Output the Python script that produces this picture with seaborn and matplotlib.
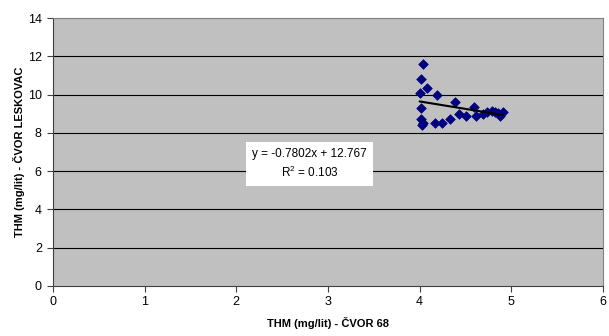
import numpy as np
import pandas as pd
import matplotlib
matplotlib.use("Agg")
import matplotlib.pyplot as plt
import seaborn as sns

# Data
cvor68 = [4.04, 4.02, 4.08, 4.00, 4.19, 4.01, 4.39, 4.02, 4.04, 4.03, 4.17, 4.24,
          4.33, 4.43, 4.51, 4.59, 4.61, 4.69, 4.73, 4.79, 4.82, 4.86, 4.88, 4.91]
leskovac = [11.6, 10.8, 10.36, 10.1, 10.0, 9.32, 9.6, 8.71, 8.53, 8.4, 8.5, 8.53,
            8.71, 8.97, 8.9, 9.34, 8.88, 8.99, 9.07, 9.16, 9.09, 9.02, 8.9, 9.09]
slope = -0.7802
intercept = 12.767
r2 = 0.103
x_ticks = [0, 1, 2, 3, 4, 5, 6]
y_ticks = [0, 2, 4, 6, 8, 10, 12, 14]

df = pd.DataFrame({"x": cvor68, "y": leskovac})

sns.set_style("white")
plt.rcParams["font.family"] = ["Liberation Sans", "DejaVu Sans"]
plt.rcParams["text.color"] = "black"
plt.rcParams["axes.labelcolor"] = "black"
plt.rcParams["xtick.color"] = "black"
plt.rcParams["ytick.color"] = "black"

fig = plt.figure(figsize=(6.09, 3.36), dpi=100)
ax = fig.add_axes([0.087, 0.149, 0.903, 0.797])
ax.set_facecolor("#C0C0C0")

for yv in y_ticks[1:-1]:
    ax.axhline(yv, color="black", linewidth=0.8, zorder=1)

sns.scatterplot(data=df, x="x", y="y", ax=ax, marker="D", s=24,
                color="#000080", edgecolor="#000080", linewidth=0.5, zorder=3)

xl = np.array([min(cvor68), max(cvor68)])
ax.plot(xl, slope * xl + intercept, color="black", linewidth=1.5, zorder=4)

ax.set_xlim(0, 6)
ax.set_ylim(0, 14)
ax.set_xticks(x_ticks)
ax.set_yticks(y_ticks)
ax.tick_params(axis="both", labelsize=9, direction="out", length=4,
               width=0.8, color="#404040", left=True, bottom=True, pad=3)
ax.tick_params(axis="y", pad=4)
for s in ax.spines.values():
    s.set_color("#808080")
    s.set_linewidth(0.8)
ax.spines["left"].set_color("#404040")
ax.spines["bottom"].set_color("#404040")

ax.set_xlabel("THM (mg/lit) - ČVOR 68", fontsize=8, fontweight="bold", labelpad=7)
ax.set_ylabel("THM (mg/lit) - ČVOR LESKOVAC", fontsize=8, fontweight="bold", labelpad=2)

ax.text(2.80, 6.37,
        "y = -0.7802x + 12.767\n$\\mathregular{R^2}$ = 0.103",
        fontsize=8.5, ha="center", va="center", linespacing=1.45, zorder=5,
        bbox=dict(boxstyle="square,pad=0.5", facecolor="white", edgecolor="none"))

fig.savefig("out.png", dpi=100)
